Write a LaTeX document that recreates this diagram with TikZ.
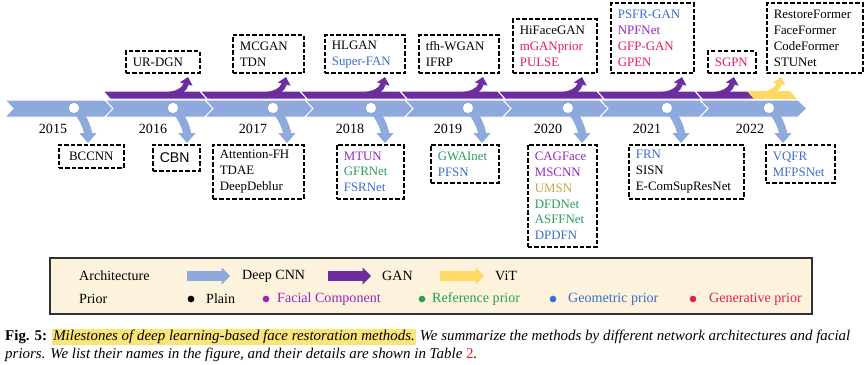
\documentclass[tikz,border=0pt]{standalone}
\usepackage{fontspec}
\setmainfont{Liberation Serif}
\setsansfont{Liberation Sans}
\usetikzlibrary{arrows.meta}
\setlength{\fboxsep}{1pt}

\definecolor{cnnblue}{RGB}{142,169,219}
\definecolor{ganpurple}{RGB}{108,45,158}
\definecolor{vityellow}{RGB}{255,217,102}
\definecolor{pblue}{RGB}{58,110,205}
\definecolor{ppurple}{RGB}{150,40,190}
\definecolor{pgreen}{RGB}{40,160,90}
\definecolor{ppink}{RGB}{225,30,90}
\definecolor{pgold}{RGB}{200,165,70}
\definecolor{legfill}{RGB}{253,243,220}
\definecolor{legline}{RGB}{50,50,50}
\definecolor{hlyellow}{RGB}{250,230,120}
\definecolor{tabred}{RGB}{220,30,30}

\def\px{0.03cm}

\tikzset{
  mbox/.style={draw, line width=0.05cm, dash pattern=on 0.13cm off 0.065cm,
    inner xsep=0.21cm, inner ysep=0pt, align=left,
    font=\fontsize{11}{13.6}\selectfont},
  cnnarr/.style={draw=cnnblue, line width=0.24cm, -{Triangle[width=0.5cm,length=0.3cm]}},
  ganarr/.style={draw=ganpurple, line width=0.16cm, -{Triangle[width=0.38cm,length=0.22cm]}},
  yearlbl/.style={font=\fontsize{12}{14}\selectfont},
  whitedot/.style={circle, fill=white, inner sep=0pt, minimum size=0.3cm},
  legdot/.style={circle, inner sep=0pt, minimum size=0.2cm},
  legtext/.style={font=\fontsize{12}{14}\selectfont, anchor=west, inner sep=0pt},
  legarr/.style={line width=0.3cm, -{Triangle[width=0.5cm,length=0.25cm]}},
}

\begin{document}
\begin{tikzpicture}[x=0.03cm, y=-0.03cm]
  \useasboundingbox (0,0) rectangle (865,365);
  \fill[white] (0,0) rectangle (865,365);
  %
  % blue timeline (deep CNN)
  \foreach \a/\b in {5/105,105/205,205/305,305/405,405/503,503/600,600/700,700/798}
    \filldraw[fill=cnnblue, draw=white, line width=0.03cm]
      (\a,100) -- (\b,100) -- (\b+9,108.5) -- (\b,117) -- (\a,117) -- (\a+8,108.5) -- cycle;
  %
  % purple band (GAN) and yellow band (ViT)
  \foreach \a/\b in {103/200,200/300,300/400,400/498,498/597,597/695,695/750}
    \filldraw[fill=ganpurple, draw=white, line width=0.03cm]
      (\a,91) -- (\b,91) -- (\b+7,99) -- (\a+7,99) -- cycle;
  \fill[vityellow] (747,91) -- (790,91) -- (797,99) -- (754,99) -- cycle;
  %
  % top boxes
  \node[mbox, anchor=south west, text width=60*\px, minimum height=22*\px] (urdgn) at (125,74) {UR-DGN};
  \node[mbox, anchor=south west, text width=57*\px, minimum height=38*\px] (mcgan) at (232,74) {MCGAN\\TDN};
  \node[mbox, anchor=south west, text width=66*\px, minimum height=38*\px] (hlgan) at (324,74) {HLGAN\\\textcolor{pblue}{Super-FAN}};
  \node[mbox, anchor=south west, text width=66*\px, minimum height=38*\px] (tfh) at (418,74) {tfh-WGAN\\IFRP};
  \node[mbox, anchor=south west, text width=70*\px, minimum height=54*\px] (hiface) at (512,74)
    {HiFaceGAN\\\textcolor{ppink}{mGANprior}\\\textcolor{ppink}{PULSE}};
  \node[mbox, anchor=south west, text width=69*\px, minimum height=70*\px] (psfr) at (610,74)
    {\textcolor{pblue}{PSFR-GAN}\\\textcolor{ppurple}{NPFNet}\\\textcolor{ppink}{GFP-GAN}\\\textcolor{ppink}{GPEN}};
  \node[mbox, anchor=south west, text width=34*\px, minimum height=22*\px] (sgpn) at (707,74) {\textcolor{ppink}{SGPN}};
  \node[mbox, anchor=south west, text width=82*\px, minimum height=70*\px] (restore) at (766,74)
    {RestoreFormer\\FaceFormer\\CodeFormer\\STUNet};
  %
  % bottom boxes
  \node[mbox, anchor=north west, text width=51*\px, minimum height=23*\px, align=center] (bccnn) at (58,144) {BCCNN};
  \node[mbox, anchor=north west, text width=33*\px, minimum height=26*\px, font=\sffamily\fontsize{12}{14}\selectfont] (cbn) at (152,144) {CBN};
  \node[mbox, anchor=north west, text width=77*\px, minimum height=54*\px] (attfh) at (212,144) {Attention-FH\\TDAE\\DeepDeblur};
  \node[mbox, anchor=north west, text width=53*\px, minimum height=54*\px] (mtun) at (336,144)
    {\textcolor{ppurple}{MTUN}\\\textcolor{pgreen}{GFRNet}\\\textcolor{pblue}{FSRNet}};
  \node[mbox, anchor=north west, text width=54*\px, minimum height=38*\px] (gwai) at (430,144)
    {\textcolor{pgreen}{GWAInet}\\\textcolor{pblue}{PFSN}};
  \node[mbox, anchor=north west, text width=55*\px, minimum height=102*\px] (cagface) at (527,144)
    {\textcolor{ppurple}{CAGFace}\\\textcolor{ppurple}{MSCNN}\\\textcolor{pgold}{UMSN}\\\textcolor{pgreen}{DFDNet}\\\textcolor{pgreen}{ASFFNet}\\\textcolor{pblue}{DPDFN}};
  \node[mbox, anchor=north west, text width=101*\px, minimum height=54*\px] (frn) at (628,144)
    {\textcolor{pblue}{FRN}\\SISN\\E-ComSupResNet};
  \node[mbox, anchor=north west, text width=55*\px, minimum height=38*\px] (vqfr) at (765,144)
    {\textcolor{pblue}{VQFR}\\\textcolor{pblue}{MFPSNet}};
  %
  % up arrows out of the GAN band
  \foreach \t [count=\i] in {188,286,385,483,582,682,734} {
    \coordinate (g\i) at (\t-26,95);
    \coordinate (u\i) at (\t,77);
    \draw[ganarr] (g\i) .. controls +(16,0) and +(-3,12) .. (u\i);
  }
  \coordinate (g8) at (755,95);
  \coordinate (u8) at (781,77);
  \draw[ganarr, draw=vityellow] (g8) .. controls +(16,0) and +(-3,12) .. (u8);
  %
  % down arrows from the year dots
  \foreach \d [count=\i] in {74,173,273,371,468,568,667,769} {
    \node[whitedot] (d\i) at (\d,108) {};
    \coordinate (v\i) at (\d+14,143);
    \draw[cnnarr] (d\i.center) .. controls +(8,6) and +(0,-14) .. (v\i);
    \node[whitedot] at (d\i) {};
  }
  %
  % years
  \foreach \x/\yr in {53/2015,153/2016,253/2017,350/2018,448/2019,548/2020,647/2021,750/2022}
    \node[yearlbl] (yr\yr) at (\x,129) {\yr};
  %
  % legend
  \node[draw=legline, fill=legfill, line width=0.045cm, minimum width=762*\px,
    minimum height=56*\px, inner sep=0pt] (leg) at (431,286) {};
  \node[legtext] (larch) at (79,276) {Architecture};
  \node[legtext] (lprior) at (79,299) {Prior};
  \draw[legarr, draw=cnnblue] (187,276) -- (230,276);
  \node[legtext] (lcnn) at (242,276) {Deep CNN};
  \draw[legarr, draw=ganpurple] (328,276) -- (371,276);
  \node[legtext] (lgan) at (382,276) {GAN};
  \draw[legarr, draw=vityellow] (440,276) -- (484,276);
  \node[legtext] (lvit) at (495,276) {ViT};
  \node[legdot, fill=black] (dplain) at (191,299) {};
  \node[legtext] (lplain) at (206,299) {Plain};
  \node[legdot, fill=ppurple] (dfacial) at (266,299) {};
  \node[legtext, text=ppurple] (lfacial) at (277,299) {Facial Component};
  \node[legdot, fill=pgreen] (dref) at (422,299) {};
  \node[legtext, text=pgreen] (lref) at (432,299) {Reference prior};
  \node[legdot, fill=pblue] (dgeo) at (553,299) {};
  \node[legtext, text=pblue] (lgeo) at (568,299) {Geometric prior};
  \node[legdot, fill=ppink] (dgen) at (693,299) {};
  \node[legtext, text=ppink] (lgen) at (709,299) {Generative prior};
  %
  % caption
  \node[anchor=west, align=left, inner sep=0pt, font=\fontsize{12.75}{15.3}\selectfont] (cap) at (5,345)
    {\textbf{Fig. 5:} \colorbox{hlyellow}{\textit{Milestones of deep learning-based face restoration methods.}} \textit{We summarize the methods by different network architectures and facial}\\
     \textit{priors. We list their names in the figure, and their details are shown in Table \textcolor{tabred}{\upshape 2}.}};
\end{tikzpicture}
\end{document}
